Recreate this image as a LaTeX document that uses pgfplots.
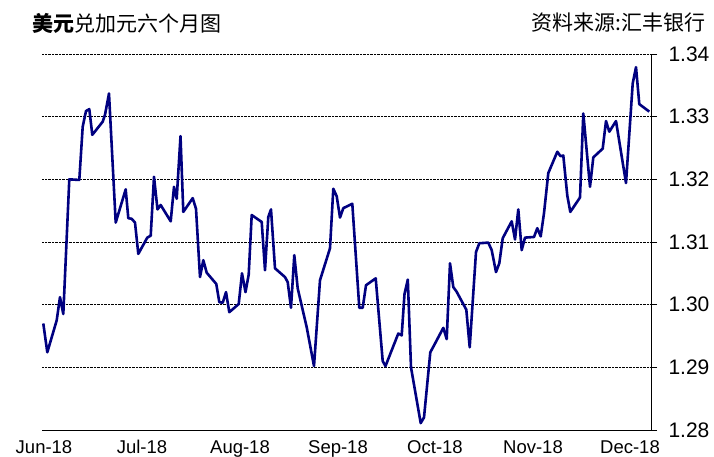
\documentclass[border=0pt]{standalone}
\usepackage{pgfplots}
\pgfplotsset{compat=1.18}
\usepackage{fontspec}
\setmainfont{Liberation Sans}
\newfontfamily\cjk{Noto Sans CJK SC}
\definecolor{navyline}{RGB}{0,0,128}
\begin{document}
\begin{tikzpicture}
\path[use as bounding box] (0,0) rectangle (714pt,457pt);
\begin{axis}[
  at={(42pt,27pt)}, anchor=south west,
  scale only axis, width=609pt, height=376pt,
  xmin=42, xmax=651, ymin=1.28, ymax=1.34,
  axis x line*=bottom, axis y line*=right,
  axis line style={black, line width=0.8pt},
  xtick={44,142,240,338,435,533,630},
  xticklabels={Jun-18,Jul-18,Aug-18,Sep-18,Oct-18,Nov-18,Dec-18},
  xtick style={draw=none},
  ytick={1.28,1.29,1.30,1.31,1.32,1.33,1.34},
  yticklabels={1.28,1.29,1.30,1.31,1.32,1.33,1.34},
  tick align=outside, major tick length=6pt,
  ytick style={black, line width=0.8pt},
  ymajorgrids, grid style={black, densely dotted, line width=0.7pt},
  xticklabel style={font=\fontsize{18.5}{18.5}\selectfont, yshift=-1pt},
  yticklabel style={font=\fontsize{21}{21}\selectfont, xshift=8pt},
  /pgf/number format/assume math mode=true,
  clip=false,
]
\addplot[navyline, line width=2.6pt, line join=round] coordinates {
(43.3,1.2970) (47.3,1.2924) (56.7,1.2975) (60,1.3012) (63.3,1.2985)
(69.3,1.3200) (79.3,1.3199) (82.7,1.3284) (86,1.3309) (89.3,1.3312)
(92.3,1.3271) (102.7,1.3292) (105,1.3303) (109,1.3337) (115.7,1.3131)
(125.7,1.3184) (128.3,1.3138) (131.7,1.3137) (135,1.3131) (138.3,1.3081)
(147.3,1.3107) (150.7,1.3110) (154,1.3204) (157.5,1.3152) (160.7,1.3159)
(170.7,1.3133) (174,1.3188) (176.7,1.3169) (180.5,1.3269) (183.3,1.3148)
(192.7,1.3170) (196,1.3153) (200,1.3044) (203.3,1.3071) (206.7,1.3051)
(216.3,1.3033) (219.3,1.3004) (222.7,1.3003) (226,1.3020) (229.3,1.2988)
(238.7,1.3001) (242,1.3050) (245.5,1.3020) (248.7,1.3048) (251.7,1.3143)
(261.7,1.3132) (265,1.3055) (268.3,1.3140) (271,1.3152) (275,1.3058)
(285,1.3044) (287.7,1.3036) (291,1.2995) (294.3,1.3079) (297.7,1.3026)
(306.7,1.2964) (314,1.2902) (320,1.3039) (330,1.3090) (333.3,1.3185)
(336.7,1.3173) (340,1.3139) (343.3,1.3154) (352.3,1.3161) (359.3,1.2995)
(362.7,1.2995) (366,1.3031) (375.7,1.3042) (382.7,1.2910) (385.5,1.2902)
(398.3,1.2954) (401.7,1.2951) (404.5,1.3017) (407.8,1.3040) (411,1.2900)
(420.7,1.2811) (424,1.2820) (430.3,1.2924) (433.7,1.2934) (443.3,1.2963)
(446.7,1.2945) (450,1.3066) (453.3,1.3028) (456.5,1.3021) (466.3,1.2992)
(469.7,1.2932) (476,1.3084) (479.3,1.3098) (488.3,1.3099) (491.7,1.3087)
(496,1.3052) (499.3,1.3066) (502.7,1.3106) (511.7,1.3133) (515,1.3104)
(518.3,1.3152) (521.7,1.3087) (525,1.3107) (534,1.3108) (537.3,1.3122)
(540.7,1.3109) (544,1.3146) (548.3,1.3210) (557.3,1.3244) (560.5,1.3237)
(563.3,1.3238) (567.3,1.3174) (570.3,1.3148) (580,1.3171) (583.3,1.3305)
(590,1.3188) (593.3,1.3235) (602.7,1.3249) (606,1.3293) (609.3,1.3276)
(616,1.3293) (626,1.3194) (632.7,1.3353) (636,1.3379) (639.3,1.3320)
(649.3,1.3308)
};
\end{axis}
\node[anchor=west, inner sep=0pt] at (32pt,434pt) {\cjk\fontsize{21}{21}\selectfont{\bfseries 美元}兑加元六个月图};
\node[anchor=east, inner sep=0pt] at (706pt,434pt) {\cjk\fontsize{21}{21}\selectfont 资料来源:汇丰银行};
\end{tikzpicture}
\end{document}
